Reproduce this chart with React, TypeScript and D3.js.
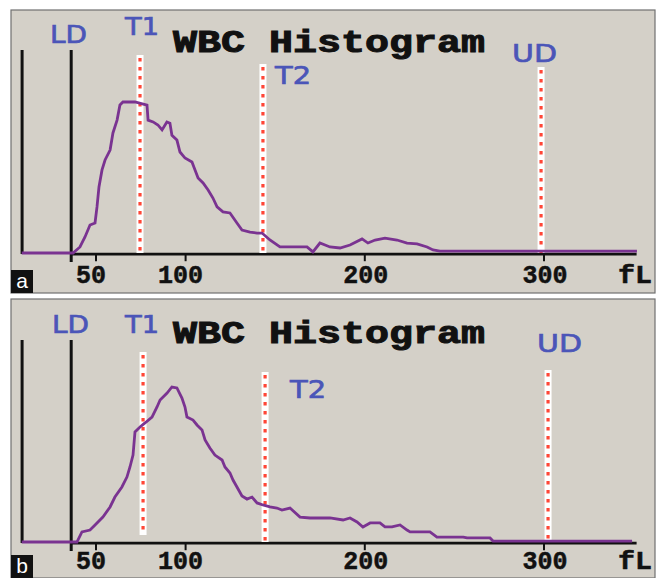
import React from "react";
import * as d3 from "d3";

// ---- DATA ----
const tickValues = [50, 100, 200, 300];
const axisUnit = "fL";
const chartTitle = "WBC Histogram";

// panel a histogram: [cell size fL, relative count]
const histA: [number, number][] = [
  [8, 0], [36.6, 0], [40.5, 4], [43.3, 10.6], [46.1, 18.5], [48.9, 19.9], [50, 30.5],
  [51.1, 43.7], [52.8, 55], [54.5, 61.6], [57.3, 68.2], [58.9, 79.5], [61.2, 88],
  [62.8, 98], [64.5, 100], [71.2, 100], [77.9, 98], [78.5, 88], [81.3, 86.8], [84, 84.8],
  [86.3, 81.5], [89, 86.8], [90.7, 86], [91.8, 78], [94.6, 74.8], [96.3, 66.9], [99.1, 62.9],
  [103, 60.3], [104.7, 55], [106.4, 49.7], [109.2, 46.4], [112, 41.7], [114.7, 36.4],
  [117, 30.5], [120.3, 27.2], [124.2, 26.5], [128.1, 19.9], [130.9, 15.2], [135.4, 13.9],
  [139.3, 13.2], [142.1, 13.2], [146.5, 8.6], [152.1, 4], [167.2, 4], [170.5, 0.7],
  [174.4, 6.6], [180, 4], [185.6, 3.3], [191.2, 5.3], [197.9, 9.3], [201.2, 6.6],
  [205.2, 8.6], [210.7, 9.9], [217.4, 8.6], [223, 6.6], [228.6, 6], [234.2, 4],
  [237.5, 2], [241.4, 1.3], [351.3, 1.3],
];

// panel b histogram: [cell size fL, relative count]
const histB: [number, number][] = [
  [8, 0], [38.8, 0], [41.6, 6.5], [46.1, 7.7], [48.9, 11], [53.3, 16.1], [57.3, 22.6],
  [60, 29], [63.9, 35.5], [66.7, 41.9], [68.4, 48.4], [70.1, 56.1], [71.2, 71], [74, 74.2],
  [76.8, 76.8], [80.7, 80.6], [83.5, 87.1], [85.2, 91.6], [89.1, 96.1], [91.8, 100],
  [94.6, 99.4], [97.4, 92.9], [99.1, 87.1], [100.2, 80.6], [103.6, 78.7], [105.8, 75.5],
  [108.6, 72.3], [110.3, 65.8], [113, 60.6], [115.8, 56.1], [119.8, 52.9], [121.4, 48.4],
  [124.2, 44.5], [125.9, 40], [128.1, 35.5], [130.9, 29.7], [133.7, 27.7], [136.5, 29],
  [139.3, 25.2], [142.6, 23.9], [146.5, 22.6], [150.4, 21.9], [153.2, 20.6], [157.7, 21.9],
  [163.3, 16.1], [168.9, 15.5], [180, 15.5], [187.3, 14.2], [191.2, 15.5], [195.1, 12.9],
  [198.4, 9.7], [202.4, 12.3], [207.9, 12.3], [210.7, 9.7], [214.6, 9.7], [219.1, 11],
  [223, 7.7], [224.7, 6.5], [235.8, 6.5], [239.7, 3.2], [254.4, 3.2], [256.5, 2.6],
  [269.3, 2.6], [271, 0.6], [348.6, 0.6],
];

// discriminator positions (fL)
const ldA = 35.6, t1A = 74, t2A = 142.6, udA = 297.8;
const ldB = 35.6, t1B = 75.7, t2B = 143.8, udB = 301.7;

const PURPLE = "#7a3391";
const BLUE = "#4b55b8";
const RED = "#ff4636";
const BG = "#d4d0c8";

type PanelProps = {
  letter: string;
  data: [number, number][];
  ld: number; t1: number; t2: number; ud: number;
  top: number; bottom: number;
  base: number; peak: number;
  lineTop: number;
  markerTops: { t1: number; t2: number; ud: number };
  t1Bottom: number;
  labelPos: { ld: [number, number]; t1: [number, number]; t2: [number, number]; ud: [number, number]; title: number; ticks: number };
};

const x = d3.scaleLinear().domain([50, 300]).range([97, 545]);
const xAxisEnd = 350;
const yAxisAt = 8.2;

function Marker({ fx, yTop, yBottom }: { fx: number; yTop: number; yBottom: number }) {
  const px = x(fx);
  return (
    <g>
      <rect x={px - 3.5} y={yTop - 3} width={7} height={yBottom - yTop + 3} fill="#ffffff" />
      <line x1={px} x2={px} y1={yTop} y2={yBottom} stroke={RED} strokeWidth={3.2} strokeDasharray="3.5 5.5" />
    </g>
  );
}

function Panel(p: PanelProps) {
  const y = d3.scaleLinear().domain([0, 100]).range([p.base, p.peak]);
  const line = d3.line<[number, number]>().x((d) => x(d[0])).y((d) => y(d[1])).curve(d3.curveLinear);
  const axisY = p.base + 1.2;
  const blueText = { fontFamily: "'DejaVu Sans', sans-serif", fontSize: 25, fill: BLUE, stroke: BLUE, strokeWidth: 0.7 };
  return (
    <g>
      <rect x={11} y={p.top} width={644} height={p.bottom - p.top} fill={BG} stroke="#707070" strokeWidth={1.2} />
      {/* y axis & LD */}
      <line x1={x(yAxisAt)} x2={x(yAxisAt)} y1={p.lineTop} y2={p.base + 1} stroke="#111" strokeWidth={3} />
      <line x1={x(p.ld)} x2={x(p.ld)} y1={p.lineTop} y2={p.base + 9} stroke="#111" strokeWidth={3} />
      {/* x axis */}
      <line x1={x(p.ld)} x2={x(xAxisEnd) + 2} y1={axisY} y2={axisY} stroke="#111" strokeWidth={2.8} />
      {tickValues.map((t) => (
        <g key={t}>
          <line x1={x(t) - 1} x2={x(t) - 1} y1={axisY} y2={axisY + 7} stroke="#111" strokeWidth={2} />
          <text x={x(t) - (t < 150 ? 6 : 0)} y={p.labelPos.ticks} textAnchor="middle" fontFamily="'Liberation Mono', monospace" fontWeight="bold" fontSize={25} fill="#111" stroke="#111" strokeWidth={0.5}>{t}</text>
        </g>
      ))}
      <text x={618} y={p.labelPos.ticks} fontFamily="'Liberation Mono', monospace" fontWeight="bold" fontSize={25} fill="#111" stroke="#111" strokeWidth={0.5} textLength={34} lengthAdjust="spacingAndGlyphs">{axisUnit}</text>
      {/* markers */}
      <Marker fx={p.t1} yTop={p.markerTops.t1} yBottom={p.t1Bottom} />
      <Marker fx={p.t2} yTop={p.markerTops.t2} yBottom={p.base} />
      <Marker fx={p.ud} yTop={p.markerTops.ud} yBottom={p.base} />
      {/* histogram curve */}
      <path d={line(p.data) || ""} fill="none" stroke={PURPLE} strokeWidth={2.8} strokeLinejoin="miter" />
      {/* labels */}
      <text x={p.labelPos.ld[0]} y={p.labelPos.ld[1]} {...blueText} textLength={37} lengthAdjust="spacingAndGlyphs">LD</text>
      <text x={p.labelPos.t1[0]} y={p.labelPos.t1[1]} {...blueText} textLength={34} lengthAdjust="spacingAndGlyphs">T1</text>
      <text x={p.labelPos.t2[0]} y={p.labelPos.t2[1]} {...blueText} textLength={36} lengthAdjust="spacingAndGlyphs">T2</text>
      <text x={p.labelPos.ud[0]} y={p.labelPos.ud[1]} {...blueText} textLength={45} lengthAdjust="spacingAndGlyphs">UD</text>
      <text x={173} y={p.labelPos.title} fontFamily="'Liberation Mono', monospace" fontWeight="bold" fontSize={31} fill="#111" stroke="#111" strokeWidth={1} textLength={312} lengthAdjust="spacingAndGlyphs">{chartTitle}</text>
      {/* panel letter */}
      <rect x={11} y={p.bottom - 23} width={22} height={23} fill="#111" />
      <text x={22} y={p.bottom - 5} textAnchor="middle" fontFamily="'Liberation Sans', Arial, sans-serif" fontSize={21} fill="#fff">{p.letter}</text>
    </g>
  );
}

export default function App() {
  return (
    <svg width={659} height={578} style={{ position: "absolute", left: 0, top: 0, background: "#fff" }}>
      <rect x={0} y={0} width={659} height={578} fill="#fff" />
      <Panel
        letter="a" data={histA} ld={ldA} t1={t1A} t2={t2A} ud={udA}
        top={10} bottom={293} base={253} peak={102} lineTop={50}
        markerTops={{ t1: 58, t2: 67, ud: 70 }} t1Bottom={253}
        labelPos={{ ld: [50, 43], t1: [125, 35], t2: [275, 84], ud: [512, 62], title: 52, ticks: 283 }}
      />
      <Panel
        letter="b" data={histB} ld={ldB} t1={t1B} t2={t2B} ud={udB}
        top={299} bottom={578} base={542} peak={387} lineTop={340}
        markerTops={{ t1: 355, t2: 375, ud: 373 }} t1Bottom={535}
        labelPos={{ ld: [52, 333], t1: [125, 333], t2: [290, 398], ud: [537, 352], title: 343, ticks: 569 }}
      />
    </svg>
  );
}
